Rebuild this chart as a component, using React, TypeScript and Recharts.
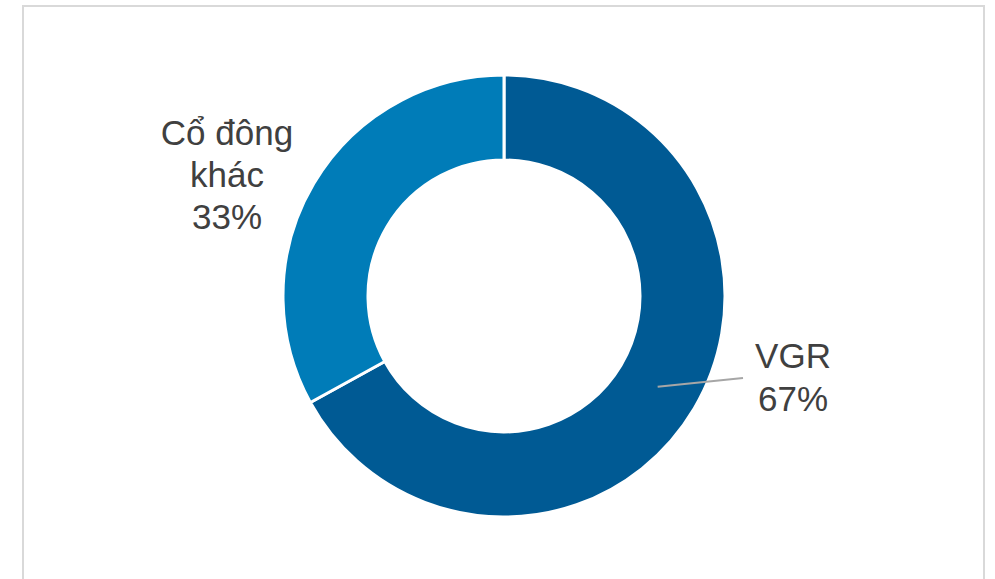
import React from 'react';
import { PieChart, Pie, Cell } from 'recharts';

// Ownership split
const NAMES = ['VGR', 'Cổ đông khác'];
const VALUES = [67, 33];
const LABEL_LINES = [
  ['VGR', '67%'],
  ['Cổ đông', 'khác', '33%'],
];

const COLORS = ['#005A94', '#007CB8'];

const data = NAMES.map((name, i) => ({ name, value: VALUES[i] }));

// label placement relative to the pie centre
const LABEL_LAYOUT = [
  { dx: 289, dy: 72, lineGap: 43, leaderTo: { dx: 239, dy: 82 } },
  { dx: -277, dy: -151, lineGap: 42, leaderTo: null },
];

const RAD = Math.PI / 180;

const renderLabel = (props: any) => {
  const { cx, cy, midAngle, innerRadius, outerRadius, index } = props;
  const layout = LABEL_LAYOUT[index];
  const lines = LABEL_LINES[index];
  const x = cx + layout.dx;
  const y = cy + layout.dy;
  let leader = null;
  if (layout.leaderTo) {
    const r = (innerRadius + outerRadius) / 2;
    const sx = cx + r * Math.cos(-midAngle * RAD);
    const sy = cy + r * Math.sin(-midAngle * RAD);
    leader = (
      <line
        x1={sx}
        y1={sy}
        x2={cx + layout.leaderTo.dx}
        y2={cy + layout.leaderTo.dy}
        stroke="#A6A6A6"
        strokeWidth={2}
      />
    );
  }
  return (
    <g key={`label-${index}`}>
      {leader}
      <text
        x={x}
        y={y}
        textAnchor="middle"
        fill="#404040"
        fontSize={35}
        fontFamily="'Liberation Sans', Arial, sans-serif"
      >
        {lines.map((t, i) => (
          <tspan key={i} x={x} y={y + i * layout.lineGap}>
            {t}
          </tspan>
        ))}
      </text>
    </g>
  );
};

export default function App() {
  return (
    <div style={{ position: 'absolute', left: 0, top: 0, width: 995, height: 579, overflow: 'hidden', background: '#fff' }}>
      <div
        style={{
          position: 'absolute',
          left: 22,
          top: 5,
          width: 963,
          height: 620,
          boxSizing: 'border-box',
          border: '2px solid #D9D9D9',
          borderBottom: 'none',
        }}
      />
      <div style={{ position: 'absolute', left: 0, top: 0 }}>
        <PieChart width={995} height={579} margin={{ top: 0, right: 0, bottom: 0, left: 0 }}>
          <Pie
            data={data}
            dataKey="value"
            nameKey="name"
            cx={504}
            cy={296}
            innerRadius={136}
            outerRadius={221}
            startAngle={90}
            endAngle={-270}
            stroke="#FFFFFF"
            strokeWidth={3}
            label={renderLabel}
            labelLine={false}
            isAnimationActive={false}
          >
            {data.map((entry, index) => (
              <Cell key={`cell-${index}`} fill={COLORS[index % COLORS.length]} />
            ))}
          </Pie>
        </PieChart>
      </div>
    </div>
  );
}
